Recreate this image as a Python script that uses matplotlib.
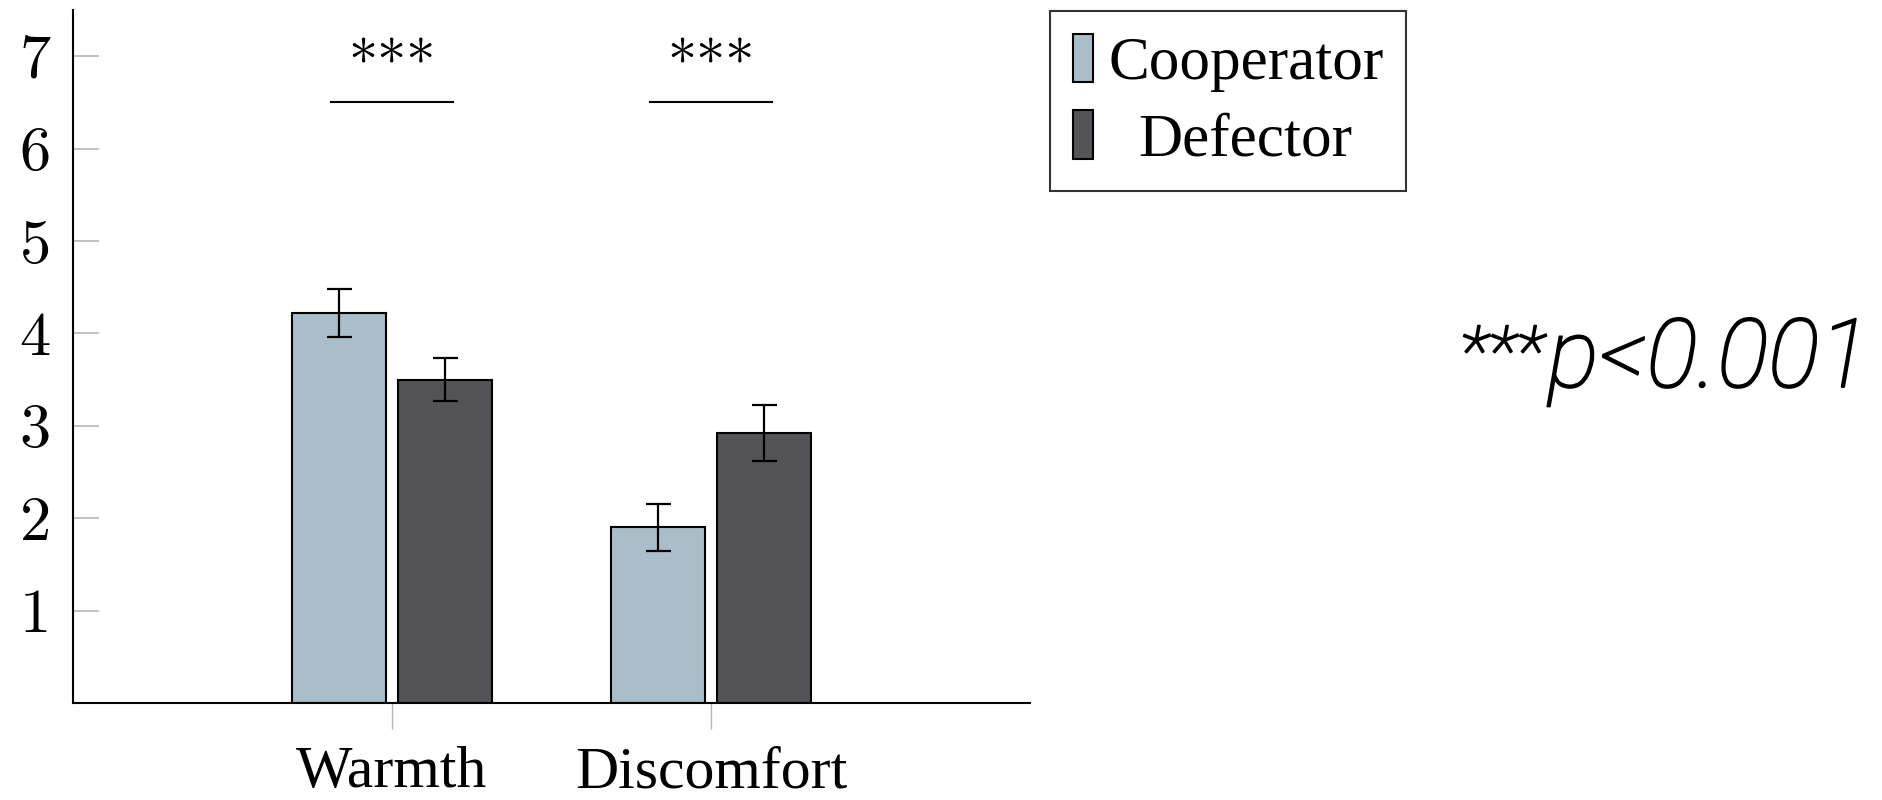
import matplotlib
matplotlib.use("Agg")
import matplotlib.pyplot as plt
import matplotlib.patheffects as pe
import numpy as np

# data
categories = ["Warmth", "Discomfort"]
series = ["Cooperator", "Defector"]
cooperator = [4.22, 1.90]
defector = [3.50, 2.92]
cooperator_err = [0.26, 0.25]
defector_err = [0.23, 0.30]
yticks = [1, 2, 3, 4, 5, 6, 7]
sig_level = 6.5
sig_label = "***"
note_stars = "***"
note = "p<0.001"

colors = ["#AABEC9", "#545358"]
W, H = 1882, 800

fig = plt.figure(figsize=(W / 100, H / 100), dpi=100)
ax = fig.add_axes([73 / W, 97 / H, (1030 - 73) / W, (703 - 10) / H])

x = np.arange(len(categories))
width = 0.294
off = 0.166
err_kw = dict(ecolor="black", elinewidth=1.6, capsize=9, capthick=1.6)
b1 = ax.bar(x - off, cooperator, width, yerr=cooperator_err, color=colors[0],
            edgecolor="black", linewidth=1.5, error_kw=err_kw, label=series[0])
b2 = ax.bar(x + off, defector, width, yerr=defector_err, color=colors[1],
            edgecolor="black", linewidth=1.5, error_kw=err_kw, label=series[1])

# significance markers
for xi in x:
    ax.plot([xi - 0.19, xi + 0.19], [sig_level, sig_level], color="black", lw=1.5)
    ax.text(xi, 6.88, sig_label, ha="center", va="center", fontsize=42,
            family="cmr10")

ax.set_xlim(-1, 2)
ax.set_ylim(0, 7.5)
ax.set_xticks(x)
ax.set_xticklabels(categories, family="Liberation Serif", fontsize=43)
ax.set_yticks(yticks)
ax.set_yticklabels([str(v) for v in yticks], family="cmr10", fontsize=45)
ax.tick_params(axis="y", direction="in", length=19, width=1.2, color="#b5b5b5", pad=16)
ax.tick_params(axis="x", direction="out", length=19, width=1.0, color="#b5b5b5", pad=12)
for s in ["top", "right"]:
    ax.spines[s].set_visible(False)
for s in ["left", "bottom"]:
    ax.spines[s].set_linewidth(1.5)

leg = ax.legend(handles=[b1, b2], labels=series, loc="upper left",
                bbox_to_anchor=(1050 / W, 789 / H), bbox_transform=fig.transFigure,
                borderaxespad=0, borderpad=0.37, handlelength=0.33, handleheight=0.84,
                handletextpad=0.25, labelspacing=0.3, fancybox=False, framealpha=1,
                edgecolor="#333333", prop=dict(family="Liberation Serif", size=44))
leg.get_frame().set_linewidth(1.5)

thicker = [pe.withStroke(linewidth=1.3, foreground="black")]
pnote = fig.text(1870 / W, (800 - 387) / H, note, ha="right", va="baseline",
                 fontsize=69, family="Roboto", weight="light", style="italic",
                 path_effects=thicker)

fig.canvas.draw()
r = fig.canvas.get_renderer()

# the stars of the footnote sit raised and smaller, just left of the p
pleft = pnote.get_window_extent(r).x0
fig.text((pleft - 4) / W, (800 - 375) / H, note_stars, ha="right", va="baseline",
         fontsize=50, family="Roboto", weight="light", style="italic",
         path_effects=thicker)

# centre the legend labels like the original
texts = leg.get_texts()
widths = [t.get_window_extent(r).width for t in texts]
for t, w in zip(texts, widths):
    t.set_x((max(widths) - w) / 2)

fig.savefig("out.png", dpi=100)
